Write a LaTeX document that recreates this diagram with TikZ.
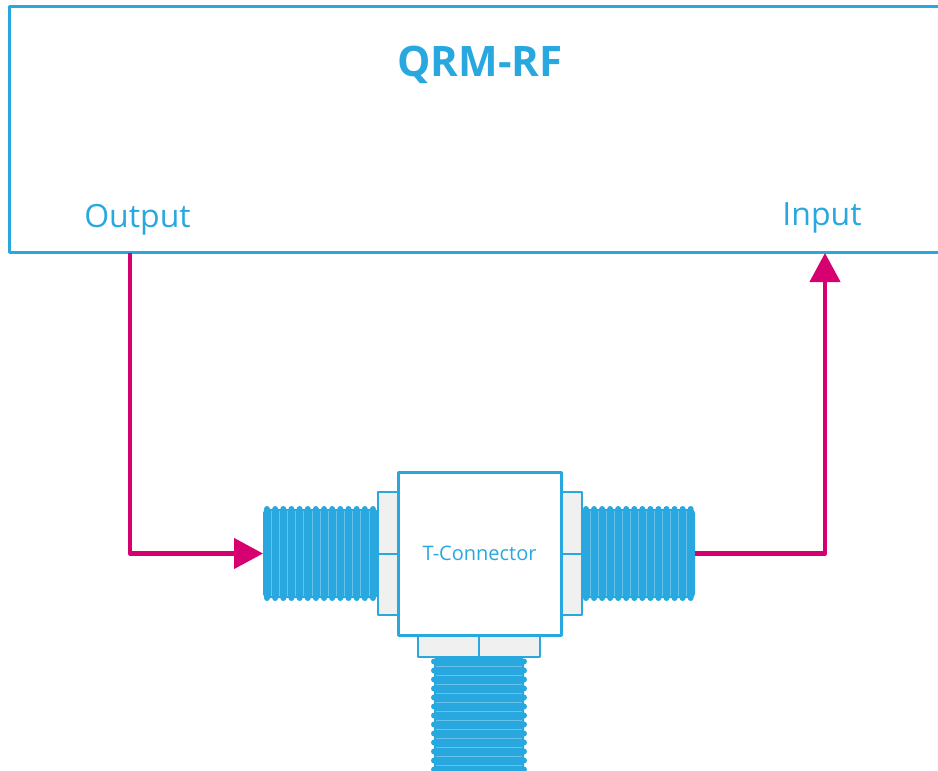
\documentclass[tikz,border=0pt]{standalone}
\usepackage{fontspec}
\setmainfont{Open Sans}
\usetikzlibrary{arrows.meta}
\usetikzlibrary{positioning}

\definecolor{qblue}{RGB}{41,168,224}
\definecolor{qpink}{RGB}{214,0,112}
\definecolor{qgrey}{RGB}{240,240,240}

\tikzset{
  frame/.style={draw=qblue,line width=1.5pt,inner sep=0pt,outer sep=0pt},
  flange/.style={draw=qblue,fill=qgrey,line width=1.2pt},
  thread/.style={fill=qblue,rounded corners=2pt,inner sep=0pt,outer sep=0pt},
  ridge/.style={draw=qblue!70!white,line width=0.4pt},
  signal/.style={draw=qpink,line width=2.2pt,-{Triangle[length=14.5pt,width=15pt]}},
  portlabel/.style={text=qblue,font=\fontsize{16}{18}\selectfont,anchor=base}
}

\begin{document}
\begin{tikzpicture}[x=0.5pt,y=-0.5pt,line join=round]
  \useasboundingbox (0,0) rectangle (938,771);
  % instrument box (open to the right)
  \node[frame,minimum width=470.5pt,minimum height=123pt] (rf) at (479.5,129.5) {};
  \node[text=qblue,font=\bfseries\fontsize{21}{24}\selectfont,anchor=base] (rfname) at (480,76) {QRM-RF};
  \node[portlabel] (outlbl) at (137.5,227) {Output};
  \node[portlabel] (inlbl) at (822,225) {Input};
  \coordinate (outport) at (130,253);
  \coordinate (inport) at (825,253);
  %
  % flanges of the tee
  \draw[flange] (378,492) rectangle (398,615);
  \draw[flange] (378,554) -- (398,554);
  \draw[flange] (561,492) rectangle (582,615);
  \draw[flange] (561,554) -- (582,554);
  \draw[flange] (418,635) rectangle (540,657);
  \draw[flange] (479,635) -- (479,657);
  %
  \node[frame,fill=white,minimum size=81.5pt,text=qblue,font=\fontsize{10}{12}\selectfont] (tee) at (479.5,553.5) {T-Connector};
  %
  % left thread
  \node[thread,minimum width=57.5pt,minimum height=44.5pt] (lthread) at (320.5,553.5) {};
  \foreach \i in {0,...,13} {
    \fill[qblue] (267+8.15*\i,509) circle (1.5pt);
    \fill[qblue] (267+8.15*\i,598) circle (1.5pt);
  }
  \foreach \i in {1,...,13}
    \draw[ridge] (263+8.15*\i,511) -- (263+8.15*\i,596);
  %
  % right thread
  \node[thread,minimum width=56.5pt,minimum height=44.5pt] (rthread) at (638.5,553.5) {};
  \foreach \i in {0,...,13} {
    \fill[qblue] (586+8.05*\i,509) circle (1.5pt);
    \fill[qblue] (586+8.05*\i,598) circle (1.5pt);
  }
  \foreach \i in {1,...,13}
    \draw[ridge] (582+8.05*\i,511) -- (582+8.05*\i,596);
  %
  % bottom thread
  \node[thread,minimum width=45pt,minimum height=61.5pt] (bthread) at (479,718.5) {};
  \foreach \i in {0,...,13} {
    \fill[qblue] (434,661.5+9*\i) circle (1.5pt);
    \fill[qblue] (524,661.5+9*\i) circle (1.5pt);
  }
  \foreach \i in {1,...,13}
    \draw[ridge] (436,657+9*\i) -- (522,657+9*\i);
  %
  % signal path
  \draw[signal] (outport) |- (lthread.west);
  \draw[signal] (rthread.east) -| (inport);
\end{tikzpicture}
\end{document}
